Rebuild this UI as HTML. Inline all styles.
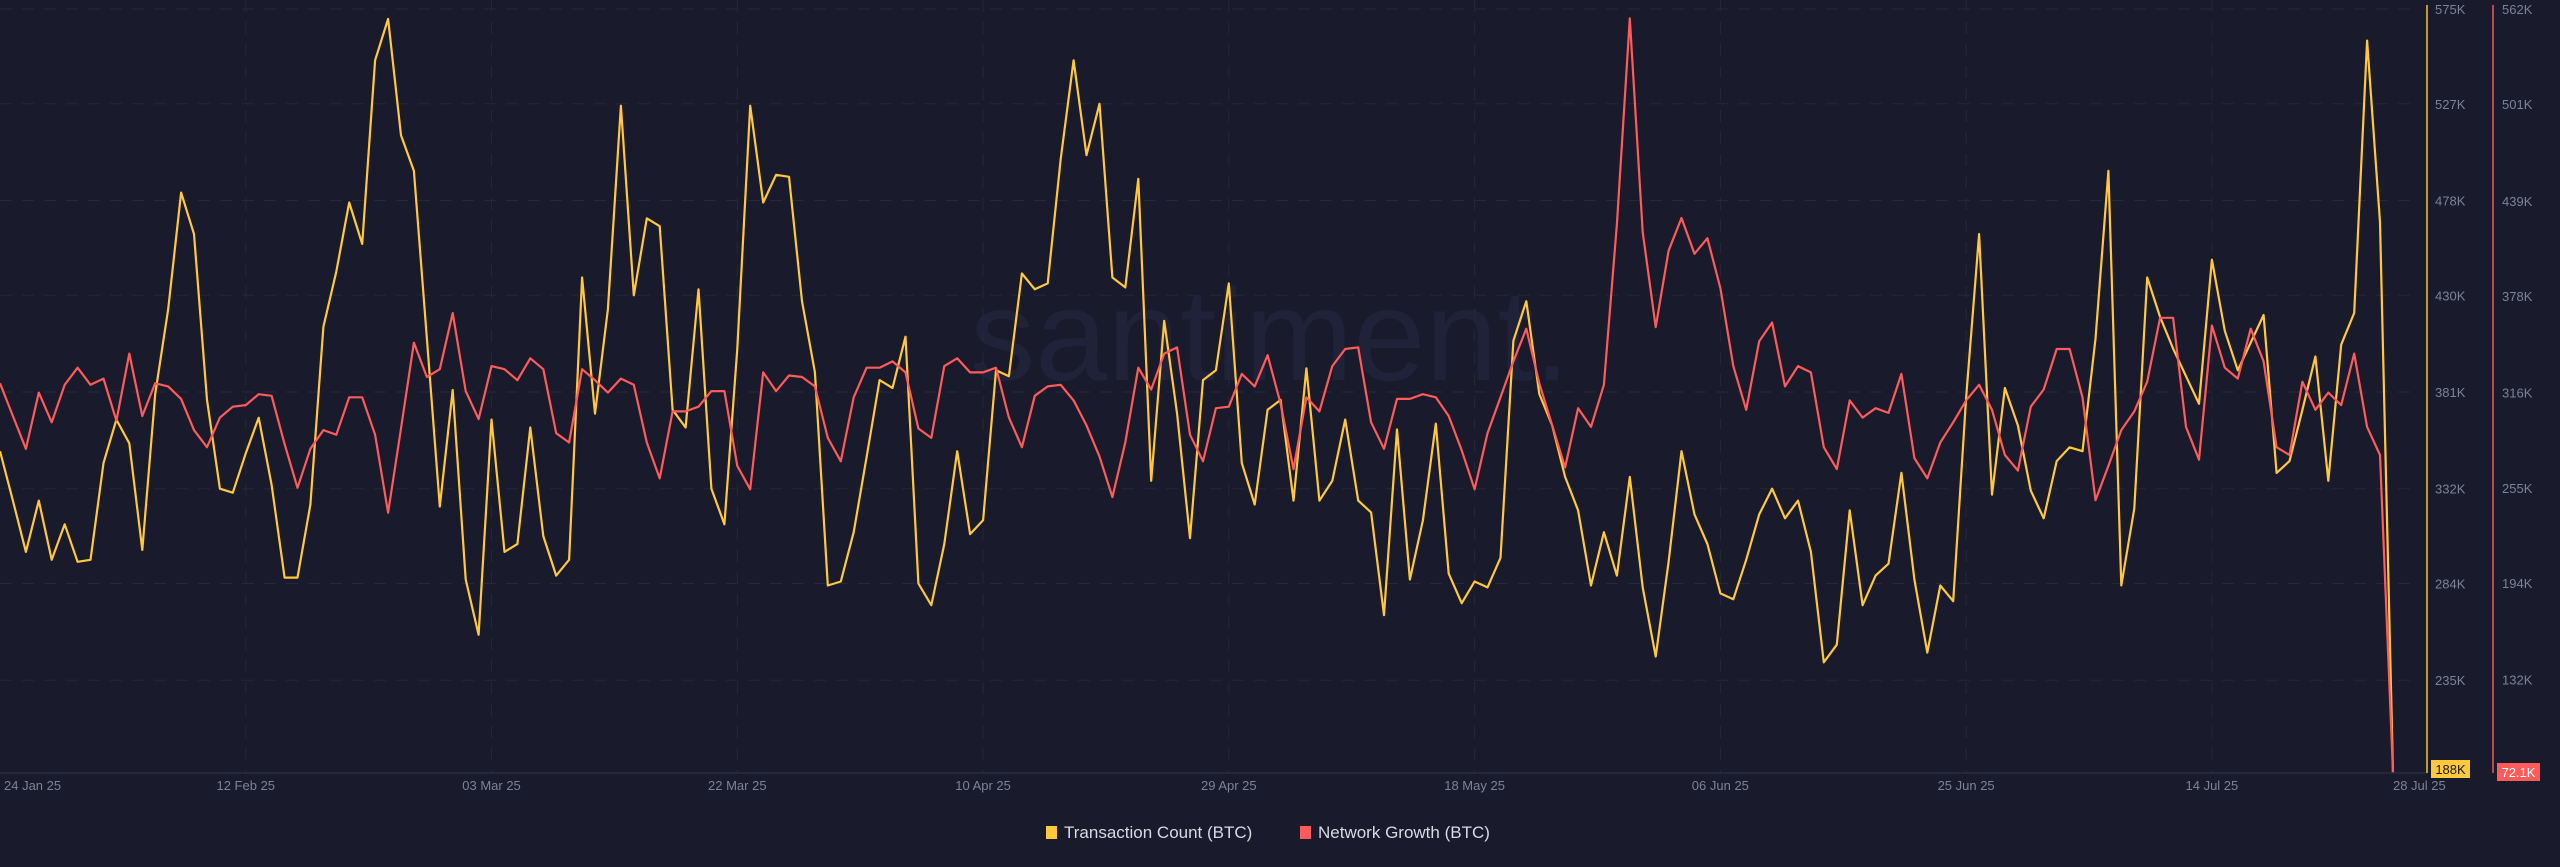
<!DOCTYPE html>
<html><head><meta charset="utf-8"><style>
html,body{margin:0;padding:0;background:#191a2b;}
svg{display:block;font-family:"Liberation Sans",sans-serif;}
</style></head><body>
<svg id="chart" width="2560" height="867" viewBox="0 0 2560 867">
<rect width="2560" height="867" fill="#191a2b"/>
<text x="1270" y="380" font-size="130" fill="#20223a" text-anchor="middle">santiment.</text>
<g id="grid"></g>
<g id="lines"></g>
<g id="axes"></g>
<g>
<rect x="1046" y="826" width="11" height="13" fill="#ffc83d"/>
<text x="1064" y="838" font-size="17" fill="#d8dae3">Transaction Count (BTC)</text>
<rect x="1300" y="826" width="11" height="13" fill="#ff5b5b"/>
<text x="1318" y="838" font-size="17" fill="#d8dae3">Network Growth (BTC)</text>
</g>
</svg>
<script>
const dateLabels = ["24 Jan 25","12 Feb 25","03 Mar 25","22 Mar 25","10 Apr 25","29 Apr 25","18 May 25","06 Jun 25","25 Jun 25","14 Jul 25","28 Jul 25"];
const dateLabelIdx = [0,19,38,57,76,95,114,133,152,171,185];
const txTicks = [575,527,478,430,381,332,284,235];
const ngTicks = [562,501,439,378,316,255,194,132];
const txCount = [351,326,300,326,296,314,295,296,345,367,355,301,380,423,482,461,377,332,330,350,368,334,287,287,324,414,442,477,456,549,570,511,493,408,323,382,286,258,367,300,304,363,308,288,296,439,370,423,526,430,469,465,372,363,433,332,314,403,526,477,491,490,427,391,283,285,310,348,387,383,409,284,273,304,351,309,316,392,389,441,433,436,499,549,501,527,439,434,489,336,417,370,307,387,392,436,345,324,372,377,326,393,326,336,367,326,320,268,362,286,316,365,289,274,285,282,297,407,427,380,364,338,321,283,310,288,338,282,247,295,351,319,304,279,276,296,319,332,317,326,300,244,253,321,273,288,294,340,286,249,283,275,378,461,329,383,364,331,317,346,353,351,408,493,283,322,439,419,403,389,375,448,412,392,406,420,340,346,372,399,336,405,421,559,467,188];
const netGrowth = [322,301,280,316,297,321,332,321,325,298,341,301,322,320,312,292,281,300,307,308,315,314,283,255,280,292,289,313,313,289,239,293,348,326,331,367,317,299,333,331,324,338,331,290,284,331,324,316,325,321,284,261,304,304,307,317,317,269,254,329,317,327,326,320,287,272,313,332,332,336,329,293,287,333,338,329,329,332,300,281,314,320,321,311,295,275,249,284,332,318,341,345,289,272,306,307,328,320,340,309,267,313,304,333,344,345,297,280,312,312,315,313,301,279,254,290,313,336,357,322,295,268,306,294,321,424,556,419,358,407,428,405,415,383,333,305,349,361,320,333,329,281,267,311,300,306,303,328,274,261,284,297,311,321,305,276,266,307,318,344,344,313,247,269,292,304,323,364,364,294,273,359,332,325,357,336,281,276,323,305,316,308,341,294,276,72.1];

const NS="http://www.w3.org/2000/svg";
const X0=0, DX=12.935, YT=9, YB=773;
const TXMIN=188, TXMAX=575, NGMIN=72.1, NGMAX=562;
function xs(i){return X0+i*DX;}
function yTx(v){return YB-(v-TXMIN)/(TXMAX-TXMIN)*(YB-YT);}
function yNg(v){return YB-(v-NGMIN)/(NGMAX-NGMIN)*(YB-YT);}
function mk(tag,attrs,parent){const e=document.createElementNS(NS,tag);for(const k in attrs)e.setAttribute(k,attrs[k]);parent.appendChild(e);return e;}
const grid=document.getElementById('grid'),lines=document.getElementById('lines'),axes=document.getElementById('axes');

txTicks.forEach((t,k)=>{
  const y=yTx(t);
  const g=mk('line',{x1:0,x2:2420,y1:y,y2:y,stroke:'#262839','stroke-width':1,'stroke-dasharray':'12 10'},grid);
  
  
  const l=mk('text',{x:2435,y:y+5,'font-size':13,fill:'#7d8296'},axes);
  l.textContent=t+'K';
  
  
});
ngTicks.forEach((t,k)=>{
  const y=yNg(t);
  const l=mk('text',{x:2502,y:y+5,'font-size':13,fill:'#7d8296'},axes);
  l.textContent=t+'K';
  
  
});
dateLabelIdx.forEach((d,k)=>{
  const x=xs(d);
  if(k>0&&k<dateLabelIdx.length-1){
    const g=mk('line',{x1:x,x2:x,y1:0,y2:YB,stroke:'#262839','stroke-width':1,'stroke-dasharray':'12 10'},grid);
    
    
  }
  const anchor=(k===0||k===dateLabelIdx.length-1)?'start':'middle';
  const t=mk('text',{x:k===0?4:x,y:790,'font-size':13,fill:'#7d8296','text-anchor':anchor},axes);
  t.textContent=dateLabels[k];
  
  
});
const ax=mk('line',{x1:0,x2:2427,y1:YB,y2:YB,stroke:'#2a2c3e','stroke-width':1.5},axes);


const ya=mk('line',{x1:2427,x2:2427,y1:5,y2:YB,stroke:'#f5c33b','stroke-width':1.5},axes);


const ra=mk('line',{x1:2493,x2:2493,y1:5,y2:YB,stroke:'#f0585a','stroke-width':1.5},axes);



function path(arr,yf,color,name){
  const d=arr.map((v,i)=>(i?'L':'M')+xs(i).toFixed(1)+' '+yf(v).toFixed(1)).join(' ');
  const p=mk('path',{d:d,fill:'none',stroke:color,'stroke-width':2.2,'stroke-linejoin':'round'},lines);
  
  
}
path(txCount,yTx,'#ffc83d','transaction-count-line');
path(netGrowth,yNg,'#ff5b5b','network-growth-line');

const lastTx=txCount[txCount.length-1], lastNg=netGrowth[netGrowth.length-1];
const b1=mk('rect',{x:2431,y:yTx(lastTx)-13,width:39,height:18,fill:'#ffc83d'},axes);


const t1=mk('text',{x:2450.5,y:yTx(lastTx)+1,'font-size':13,fill:'#1a1a1a','text-anchor':'middle'},axes);
t1.textContent=lastTx+'K';


const b2=mk('rect',{x:2497,y:yNg(lastNg)-10,width:43,height:18,fill:'#ff5b5b'},axes);


const t2=mk('text',{x:2518.5,y:yNg(lastNg)+4,'font-size':13,fill:'#ffffff','text-anchor':'middle'},axes);
t2.textContent=lastNg+'K';


</script>
</body></html>
